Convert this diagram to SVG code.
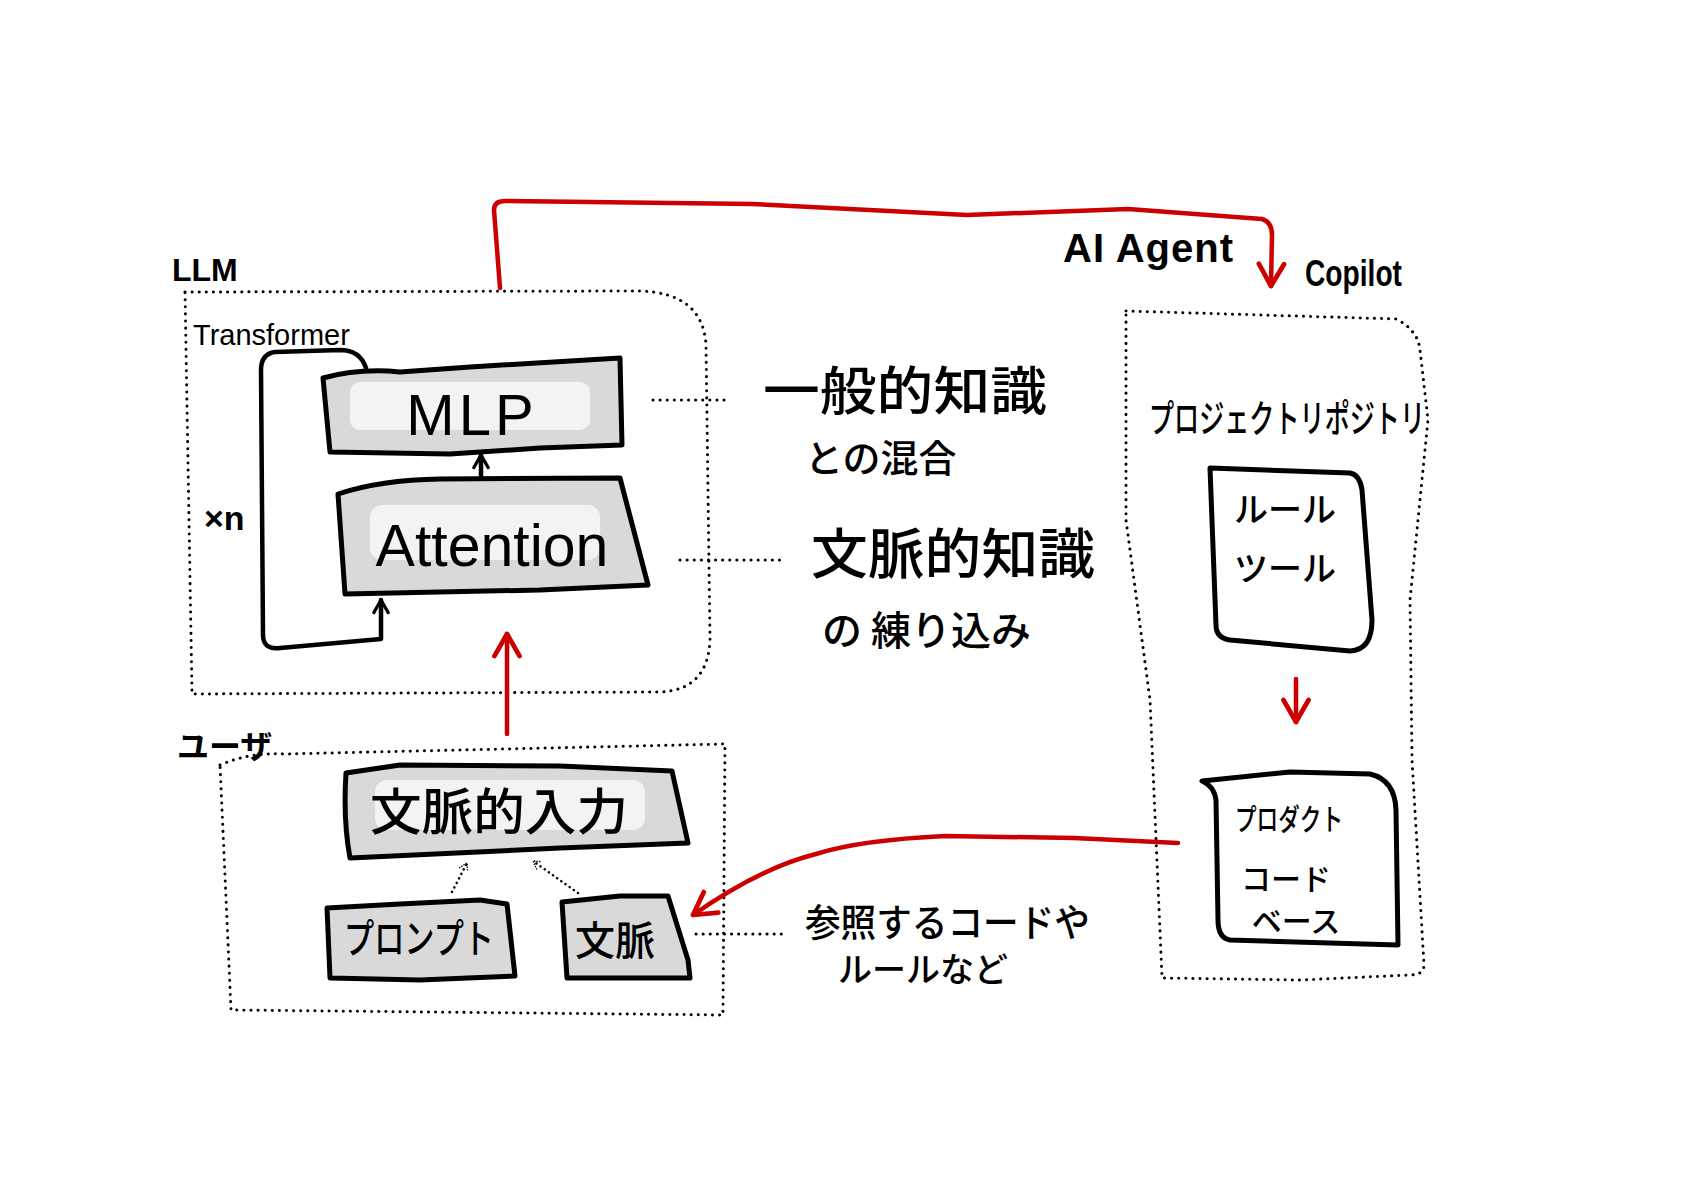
<svg xmlns="http://www.w3.org/2000/svg" width="1684" height="1190" viewBox="0 0 1684 1190">
<style>
  .box{fill:#fff;stroke:#000;stroke-width:5;stroke-linejoin:round;stroke-linecap:round}
  .grey{fill:#d9d9d9}
  .inner{fill:#f3f3f3;stroke:none}
  .dot{fill:none;stroke:#000;stroke-width:3;stroke-dasharray:0.1 7;stroke-linecap:round}
  .red{fill:none;stroke:#cc0000;stroke-width:4.5;stroke-linecap:round;stroke-linejoin:round}
  .blk{fill:none;stroke:#000;stroke-width:4.5;stroke-linecap:round;stroke-linejoin:round}
  .dotarr{fill:none;stroke:#000;stroke-width:2.5;stroke-dasharray:0.1 5;stroke-linecap:round}
  text{font-family:"Noto Sans CJK JP","Noto Sans",sans-serif;fill:#000;font-weight:500}
  .lat{font-family:"Liberation Sans","DejaVu Sans",sans-serif;font-weight:400}
  .b{font-weight:700}
</style>
<defs>
  <marker id="redHead" viewBox="0 0 20 20" refX="18" refY="10" markerWidth="7" markerHeight="7" markerUnits="strokeWidth" orient="auto">
    <path d="M4,2 L18,10 L4,18" fill="none" stroke="#cc0000" stroke-width="3" stroke-linecap="round" stroke-linejoin="round"/>
  </marker>
  <marker id="blkHead" viewBox="0 0 20 20" refX="18" refY="10" markerWidth="4" markerHeight="4" markerUnits="strokeWidth" orient="auto">
    <path d="M4,2 L18,10 L4,18" fill="none" stroke="#000" stroke-width="3.5" stroke-linecap="round" stroke-linejoin="round"/>
  </marker>
  <marker id="dotHead" viewBox="0 0 20 20" refX="18" refY="10" markerWidth="5" markerHeight="5" markerUnits="strokeWidth" orient="auto">
    <path d="M6,3 L18,10 L6,17" fill="none" stroke="#000" stroke-width="2.5" stroke-dasharray="0.1 4" stroke-linecap="round"/>
  </marker>
</defs>
<rect width="1684" height="1190" fill="#fff"/>

<!-- containers -->
<g id="llm">
  <path class="dot" d="M185,292 L640,291 Q703,293 706,345 L710,640 Q708,690 660,692 L192,694 Z"/>
  <text x="172" y="281" class="lat b" font-size="32">LLM</text>
</g>
<g id="transformer">
  <text x="193" y="345" class="lat" font-size="29">Transformer</text>
  <text x="204" y="530" class="lat b" font-size="34">×n</text>
</g>
<g id="user">
  <path class="dot" d="M220,765 Q250,752 285,754 L725,744 L723,1015 L231,1010 Z"/>
  <text x="177" y="758" class="b" font-size="32">ユーザ</text>
</g>
<g id="repo">
  <path class="dot" d="M1126,311 L1396,319 Q1418,330 1420,350 L1428,420 L1410,600 L1412,760 L1424,965 Q1424,975 1410,975 L1300,980 L1162,978 L1150,700 L1126,520 Z"/>
  <text x="1149" y="432" font-size="38" textLength="276" lengthAdjust="spacingAndGlyphs">プロジェクトリポジトリ</text>
</g>
<g id="labels">
  <text x="1063" y="262" class="lat b" font-size="40" letter-spacing="1">AI Agent</text>
  <text x="1305" y="286" class="lat b" font-size="36" textLength="97" lengthAdjust="spacingAndGlyphs">Copilot</text>
</g>

<!-- nodes -->
<g id="mlp">
  <path class="box grey" d="M323,378 Q360,368 400,372 L470,367 L620,358 L622,445 L540,448 L450,454 L330,452 Z"/>
  <rect class="inner" x="350" y="382" width="240" height="48" rx="10"/>
  <text x="472" y="435" class="lat" font-size="58" text-anchor="middle" letter-spacing="4">MLP</text>
</g>
<g id="attention">
  <path class="box grey" d="M338,494 Q380,480 440,479 L620,478 L648,585 L540,590 L345,594 Z"/>
  <rect class="inner" x="370" y="505" width="230" height="55" rx="12"/>
  <text x="492" y="566" class="lat" font-size="59" text-anchor="middle">Attention</text>
</g>
<g id="note-mlp">
  <text x="763" y="410" font-size="52" textLength="284" lengthAdjust="spacingAndGlyphs">一般的知識</text>
  <text x="805" y="472" font-size="38">との混合</text>
</g>
<g id="note-attn">
  <text x="811" y="574" font-size="54" textLength="284" lengthAdjust="spacingAndGlyphs">文脈的知識</text>
  <text x="822" y="645" font-size="40">の 練り込み</text>
</g>
<g id="context-input">
  <path class="box grey" d="M346,773 L400,765 L560,766 L672,771 L688,843 L560,848 L350,858 Q343,820 346,773 Z"/>
  <rect class="inner" x="375" y="780" width="270" height="50" rx="12"/>
  <text x="370" y="830" font-size="50" textLength="258" lengthAdjust="spacingAndGlyphs">文脈的入力</text>
</g>
<g id="prompt">
  <path class="box grey" d="M327,908 L400,904 L480,900 L507,904 L515,976 L420,980 L330,978 Z"/>
  <text x="344" y="953" font-size="40" textLength="150" lengthAdjust="spacingAndGlyphs">プロンプト</text>
</g>
<g id="context">
  <path class="box grey" d="M562,902 L620,896 L668,896 L688,960 L690,978 L567,978 Z"/>
  <text x="575" y="955" font-size="40">文脈</text>
</g>
<g id="rules">
  <path class="box" d="M1210,468 L1350,473 Q1360,475 1362,490 L1372,620 Q1372,650 1350,651 L1230,640 Q1216,638 1216,625 Z"/>
  <text x="1285" y="522" font-size="34" text-anchor="middle">ルール</text>
  <text x="1285" y="581" font-size="34" text-anchor="middle">ツール</text>
</g>
<g id="product">
  <path class="box" d="M1202,781 L1290,772 L1370,774 Q1395,780 1396,810 L1398,945 L1230,940 Q1218,938 1218,920 L1216,800 Q1214,786 1202,781 Z"/>
  <text x="1235" y="830" font-size="30" textLength="108" lengthAdjust="spacingAndGlyphs">プロダクト</text>
  <text x="1286" y="890" font-size="30" text-anchor="middle">コード</text>
  <text x="1296" y="932" font-size="30" text-anchor="middle">ベース</text>
</g>
<g id="note-ref">
  <text x="805" y="936" font-size="38" textLength="285" lengthAdjust="spacingAndGlyphs">参照するコードや</text>
  <text x="838" y="982" font-size="34">ルールなど</text>
</g>

<!-- connectors -->
<g id="connectors">
  <path class="blk" d="M366,368 Q360,350 340,350 L275,352 Q261,354 261,370 L263,635 Q263,650 280,648 L381,639 L381,600" marker-end="url(#blkHead)"/>
  <path class="blk" d="M481,478 L481,455" marker-end="url(#blkHead)"/>
  <path class="dot" d="M653,400 L730,400"/>
  <path class="dot" d="M680,560 L781,560"/>
  <path class="dot" d="M696,934 L784,934"/>
  <path class="dotarr" d="M452,892 L467,863" marker-end="url(#dotHead)"/>
  <path class="dotarr" d="M578,893 L533,861" marker-end="url(#dotHead)"/>
  <path class="red" d="M507,734 L507,634" marker-end="url(#redHead)"/>
  <path class="red" d="M500,288 L494,210 Q494,201 505,201 L752,204 L967,215 L1128,209 L1262,219 Q1272,222 1272,235 L1271,286" marker-end="url(#redHead)"/>
  <path class="red" d="M1296,679 L1296,722" marker-end="url(#redHead)"/>
  <path class="red" d="M1178,843 L1074,838 L945,836 Q860,840 816,854 Q760,868 693,915" marker-end="url(#redHead)"/>
</g>
</svg>
